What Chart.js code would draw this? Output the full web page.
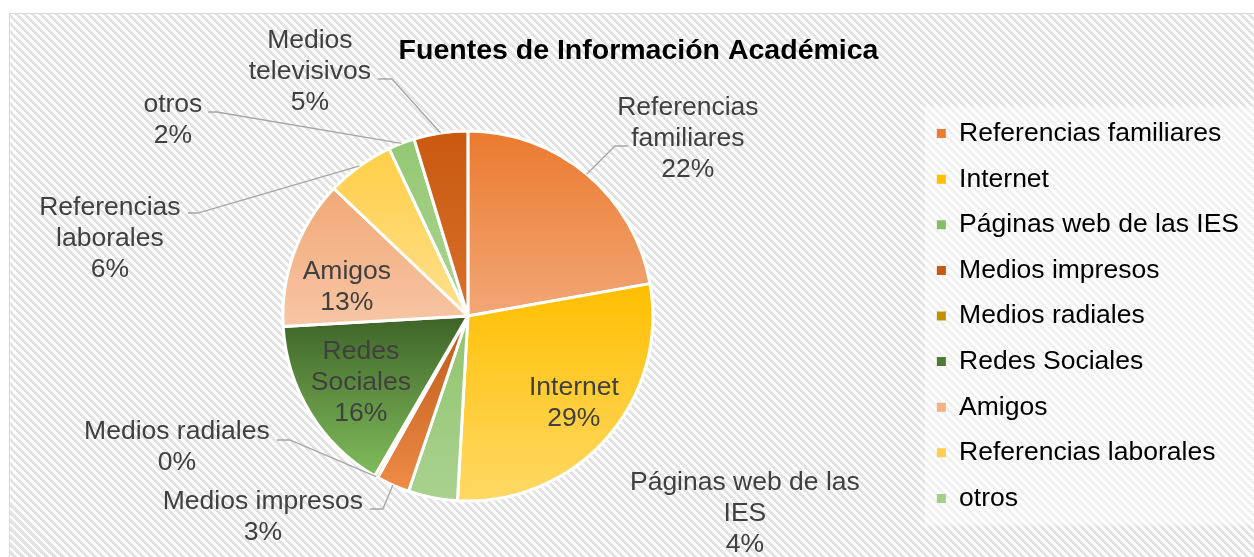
<!DOCTYPE html>
<html><head><meta charset="utf-8">
<script src="https://cdn.jsdelivr.net/npm/chart.js@4.4.1/dist/chart.umd.min.js"></script>
<style>
html,body{margin:0;padding:0;background:#fff;overflow:hidden;width:1254px;height:557px;}
#frame{position:absolute;left:9px;top:13px;width:1260px;height:560px;border:1px solid #D9D9D9;
background:repeating-linear-gradient(45deg,#ffffff 0px,#ffffff 2.8px,#e3e3e3 2.8px,#e3e3e3 5.66px);}
canvas{position:absolute;left:0;top:0;}
</style></head><body>
<div id="frame"></div>
<canvas id="c" width="1254" height="557"></canvas>
<script>
// ---- data ----
const title = 'Fuentes de Información Académica';
const categories = ['Referencias familiares','Internet','Páginas web de las IES','Medios impresos','Medios radiales','Redes Sociales','Amigos','Referencias laborales','otros','Medios televisivos'];
const shares = [22.2, 28.7, 4.3, 2.9, 0.3, 15.7, 13.0, 5.9, 2.3, 4.7];
const labelLines = [['Referencias','familiares'],['Internet'],['Páginas web de las','IES'],['Medios impresos'],['Medios radiales'],['Redes','Sociales'],['Amigos'],['Referencias','laborales'],['otros'],['Medios','televisivos']];
const legendCount = 9;

// ---- styles ----
const gradTop    = ['#EB7A2E','#FFBF00','#8FC46C','#BB5716','#B58800','#3E6427','#F1A877','#FFCF47','#93C872','#C9590F'];
const gradBottom = ['#F2A777','#FFD966','#AAD290','#F08C48','#D4A615','#80BC5C','#F7C6A5','#FFE08E','#AED594','#D8702C'];
const legendColors = ['#ED7D31','#FFC000','#86BF63','#C55A11','#BF9000','#4E7A33','#F4B183','#FFD04F','#A3CE86'];
// label block centre offsets from pie centre (px)
const labelPos = [[220,-177],[106,87.5],[277,198],[-205,201.5],[-291,131.5],[-107,67],[-121,-28.5],[-358,-77],[-295,-196],[-158,-244]];
// leader line: start offset from pie centre (dx,dy) and horizontal elbow length
const leaders = [[160,-170,-13],null,null,[-98,193,13],[-191,124,13],null,null,[-280,-103,10],[-260,-204,9],[-90,-237,14]];
const RADIUS = 185;
const FONT = '"Liberation Sans", Arial, sans-serif';

const total = shares.reduce((a,b)=>a+b,0);

function sliceGradient(c){
  const chart=c.chart, ca=chart.chartArea, i=c.dataIndex;
  if(!ca || i===undefined) return gradTop[i]||'#ccc';
  const cx=(ca.left+ca.right)/2, cy=(ca.top+ca.bottom)/2, r=RADIUS;
  let cum=0; for(let k=0;k<i;k++) cum+=shares[k];
  const a0=-Math.PI/2+2*Math.PI*cum/total, a1=a0+2*Math.PI*shares[i]/total;
  const ys=[cy, cy+r*Math.sin(a0), cy+r*Math.sin(a1)];
  for(const t of [Math.PI/2, 3*Math.PI/2]) if(t>a0 && t<a1) ys.push(cy+r*Math.sin(t));
  let y0=Math.min(...ys), y1=Math.max(...ys); if(y1-y0<1) y1=y0+1;
  const g=chart.ctx.createLinearGradient(0,y0,0,y1);
  g.addColorStop(0,gradTop[i]); g.addColorStop(1,gradBottom[i]);
  return g;
}

const titlePlugin = {
  id:'titleText',
  afterDraw(chart){
    const ctx=chart.ctx; ctx.save();
    ctx.font='bold 28.5px '+FONT; ctx.fillStyle='#000'; ctx.textAlign='center'; ctx.textBaseline='middle';
    ctx.fillText(title, 638.5, 51);
    ctx.restore();
  }
};
const legendBack = {
  id:'legendBack',
  beforeDraw(chart){
    const lg=chart.legend; if(!lg || !lg.legendHitBoxes || !lg.legendHitBoxes.length) return;
    const hb=lg.legendHitBoxes, first=hb[0], last=hb[hb.length-1];
    const ctx=chart.ctx; ctx.save();
    ctx.fillStyle='rgba(255,255,255,0.45)';
    ctx.fillRect(first.left-12, first.top-14, chart.width-(first.left-12), last.top+last.height-first.top+28);
    ctx.restore();
  }
};
const labelPlugin = {
  id:'pieLabels',
  afterDatasetsDraw(chart){
    const ctx=chart.ctx, meta=chart.getDatasetMeta(0);
    ctx.save();
    meta.data.forEach((arc,i)=>{
      const p=arc.getProps(['x','y','startAngle','endAngle','outerRadius'],true);
      const mid=(p.startAngle+p.endAngle)/2;
      const L=leaders[i];
      if(L){
        const sx=p.x+L[0], sy=p.y+L[1], ex=sx+L[2];
        const tx=p.x+Math.cos(mid)*p.outerRadius, ty=p.y+Math.sin(mid)*p.outerRadius;
        ctx.beginPath(); ctx.moveTo(sx,sy); ctx.lineTo(ex,sy); ctx.lineTo(tx,ty);
        ctx.strokeStyle='#A6A6A6'; ctx.lineWidth=1.3; ctx.stroke();
      }
      const lines=labelLines[i].concat([Math.round(shares[i]/total*100)+'%']);
      const d=labelPos[i];
      ctx.font='26.5px '+FONT; ctx.fillStyle='#404040'; ctx.textAlign='center'; ctx.textBaseline='middle';
      const lh=31;
      lines.forEach((t,k)=>ctx.fillText(t, p.x+d[0], p.y+d[1]+(k-(lines.length-1)/2)*lh));
    });
    ctx.restore();
  }
};

new Chart(document.getElementById('c'), {
  type:'pie',
  data:{labels:categories, datasets:[{data:shares, backgroundColor:sliceGradient, borderColor:'#ffffff', borderWidth:3, radius:RADIUS}]},
  options:{
    responsive:false, animation:false, radius:RADIUS,
    events:[],
    layout:{padding:{left:18,right:5,top:80,bottom:5}},
    plugins:{
      title:{display:false}, tooltip:{enabled:false},
      legend:{
        position:'right', fullSize:false,
        labels:{
          boxWidth:9, boxHeight:9, padding:19.1, color:'#000',
          font:{family:FONT, size:26.5},
          generateLabels:(chart)=>categories.slice(0,legendCount).map((t,i)=>({
            text:t, fillStyle:legendColors[i], strokeStyle:legendColors[i], lineWidth:0, hidden:false, index:i, fontColor:'#000'
          }))
        }
      }
    }
  },
  plugins:[legendBack, labelPlugin, titlePlugin]
});
</script>
</body></html>
